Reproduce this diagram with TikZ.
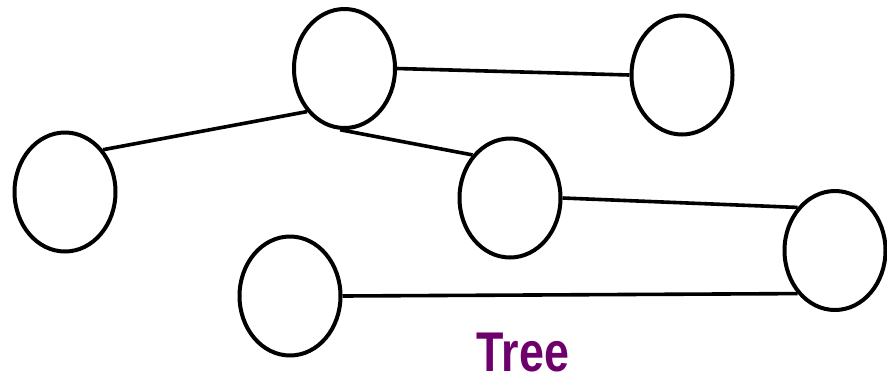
\documentclass[tikz,border=0pt]{standalone}
\usepackage{fontspec}
\usetikzlibrary{shapes.geometric}
\newfontfamily\treefont[FakeStretch=0.8]{Liberation Sans}
\definecolor{treepurple}{RGB}{110,0,110}
\begin{document}
\begin{tikzpicture}[x=1pt, y=-1pt,
                    vertex/.style = {draw, ellipse, line width=4pt, inner sep=0pt, minimum width=101pt, minimum height=119pt},
                    edge/.style = {line width=3.6pt}]
                    \useasboundingbox (0,0) rectangle (887,376);

                    \node [vertex] (top) at (344.5,68.5) {};
                    \node [vertex] (topright) at (682,75) {};
                    \node [vertex] (left) at (65,192) {};
                    \node [vertex] (mid) at (510,198) {};
                    \node [vertex] (right) at (835,250.5) {};
                    \node [vertex] (bottom) at (290,296) {};

                    \draw[edge] (top.east) -- (topright.west);
                    \draw[edge] (top.229) -- (left.48);
                    \draw[edge] (top.266) -- (mid.131);
                    \draw[edge] (mid.east) -- (right.131);
                    \draw[edge] (bottom.east) -- (right.229);

                    \node [anchor=base, inner sep=0pt, font=\treefont\bfseries\fontsize{56}{60}\selectfont, text=treepurple] (label) at (523,371) {Tree};
                \end{tikzpicture}
\end{document}
